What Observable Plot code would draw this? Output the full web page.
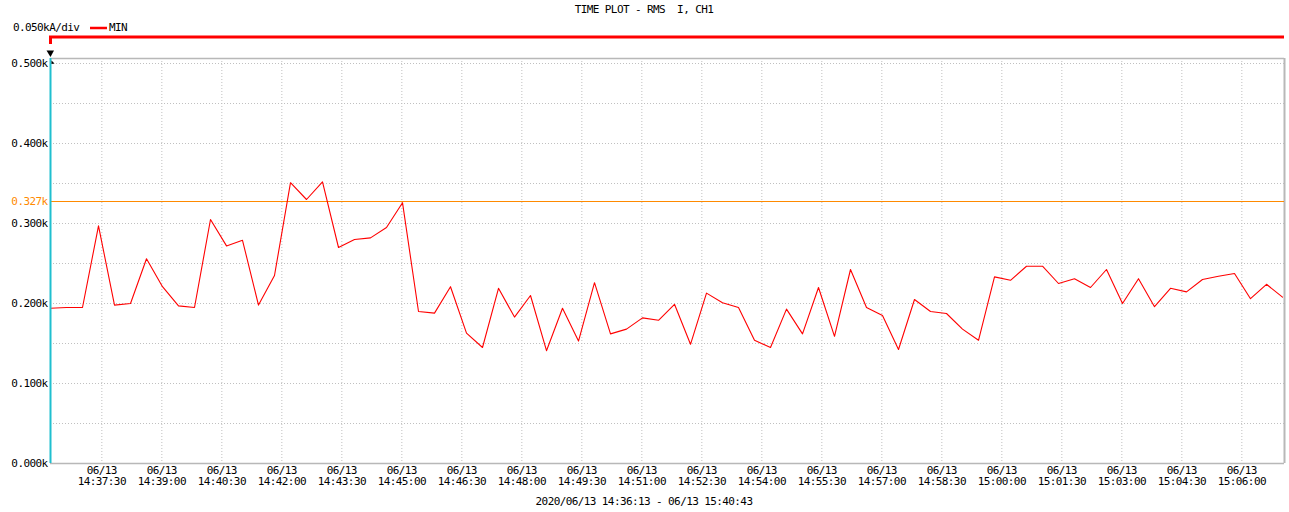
<!DOCTYPE html>
<html><head><meta charset="utf-8">
<script src="https://cdn.jsdelivr.net/npm/d3@7"></script>
<script src="https://cdn.jsdelivr.net/npm/@observablehq/plot@0.6"></script>
<style>
html,body{margin:0;padding:0;background:#fff;}
#chart svg{display:block;}
</style></head><body><div id="chart"></div>
<script>
// ---- text ----
const chartTitle = "TIME PLOT - RMS  I, CH1";
const scaleLabel = "0.050kA/div";
const seriesName = "MIN";
const rangeCaption = "2020/06/13 14:36:13 - 06/13 15:40:43";
const tickDate = "06/13";

// ---- time axis ----
const startTime = "2020-06-13T14:36:13Z";
const viewEnd = "2020-06-13T15:07:04Z";
const sampleSeconds = 24;
const tickTimes = ["14:37:30","14:39:00","14:40:30","14:42:00","14:43:30","14:45:00","14:46:30",
  "14:48:00","14:49:30","14:51:00","14:52:30","14:54:00","14:55:30","14:57:00","14:58:30",
  "15:00:00","15:01:30","15:03:00","15:04:30","15:06:00"];

// ---- values (kA) ----
const minValues = [0.194,0.195,0.195,0.297,0.198,0.200,0.256,0.221,0.197,0.195,
  0.305,0.272,0.279,0.198,0.235,0.351,0.330,0.352,0.270,0.280,
  0.282,0.295,0.326,0.190,0.188,0.221,0.163,0.145,0.219,0.183,
  0.210,0.141,0.194,0.153,0.226,0.162,0.168,0.182,0.179,0.199,
  0.149,0.213,0.201,0.195,0.154,0.145,0.193,0.162,0.220,0.159,
  0.2425,0.195,0.185,0.1425,0.205,0.190,0.1875,0.168,0.154,0.2333,
  0.229,0.2466,0.2466,0.225,0.231,0.220,0.2425,0.200,0.231,0.196,
  0.219,0.2145,0.230,0.234,0.2375,0.206,0.224,0.208];

// ---- y axis ----
const yTicks = [0, 0.1, 0.2, 0.3, 0.4, 0.5];
const yGrid = [0.05, 0.1, 0.15, 0.2, 0.25, 0.3, 0.35, 0.4, 0.45, 0.5];
const yTop = 0.50625;
const cursorValue = 0.327;

// ---- build ----
const t0 = new Date(startTime);
const tEnd = new Date(viewEnd);
const rows = minValues.map((v, i) => ({t: new Date(+t0 + i * sampleSeconds * 1000), v}));
const tickDates = tickTimes.map(s => new Date(`2020-06-13T${s}Z`));

const gridColor = "#c0c0c0";
const borderColor = "#b8b8b8";
const orange = "#ff8a00";
const font = "'DejaVu Sans Mono', 'Liberation Mono', monospace";

const chart = Plot.plot({
  width: 1289, height: 512,
  marginLeft: 50, marginRight: 5, marginTop: 58, marginBottom: 49,
  style: `font-family: ${font}; font-size: 11px; letter-spacing: -0.6px; background: #fff; color: #000;`,
  x: {type: "utc", domain: [t0, tEnd], label: null},
  y: {domain: [0, yTop], label: null},
  marks: [
    Plot.ruleY(yGrid, {stroke: gridColor, strokeDasharray: "1,2", strokeOpacity: 1}),
    Plot.ruleX(tickDates, {stroke: gridColor, strokeDasharray: "1,2", strokeOpacity: 1}),
    Plot.ruleY([0, yTop], {stroke: borderColor, strokeWidth: 1.5}),
    Plot.ruleX([tEnd], {stroke: borderColor, strokeWidth: 2}),
    Plot.ruleY([cursorValue], {stroke: orange, strokeWidth: 1, shapeRendering: "crispEdges"}),
    Plot.text([cursorValue], {y: d => d, frameAnchor: "left", dx: -3, textAnchor: "end",
      text: d => d.toFixed(3) + "k", fill: orange}),
    Plot.line(rows, {x: "t", y: "v", stroke: "#ff0000", strokeWidth: 1.1}),
    Plot.ruleX([t0], {stroke: "#1fbfcf", strokeWidth: 2}),
    Plot.axisY(yTicks, {tickSize: 0, tickPadding: 3, label: null,
      tickFormat: d => d.toFixed(3) + "k", fill: "#000"}),
    Plot.axisX(tickDates, {tickSize: 0, tickPadding: 3, fill: "#000", label: null,
      tickFormat: d => tickDate + "\n" + d3.utcFormat("%H:%M:%S")(d)})
  ]
});
document.getElementById("chart").appendChild(chart);

// ---- header / caption decorations ----
const svg = d3.select(chart);
const xs = chart.scale("x");
const xL = xs.apply(t0), xR = xs.apply(tEnd);
const g = svg.append("g").attr("font-family", font).attr("font-size", 11)
  .attr("fill", "#000").attr("text-anchor", "start");
g.append("text").attr("x", 644).attr("y", 10).attr("text-anchor", "middle")
  .attr("dominant-baseline", "middle").text(chartTitle);
g.append("text").attr("x", 13).attr("y", 28).attr("text-anchor", "start")
  .attr("dominant-baseline", "middle").text(scaleLabel);
g.append("line").attr("x1", 90).attr("x2", 107).attr("y1", 28).attr("y2", 28)
  .attr("stroke", "#ff0000").attr("stroke-width", 2.5);
g.append("text").attr("x", 109).attr("y", 28).attr("text-anchor", "start")
  .attr("dominant-baseline", "middle").text(seriesName);
g.append("path").attr("d", `M${xL + 0.5},44V37H${xR}`).attr("fill", "none")
  .attr("stroke", "#ff0000").attr("stroke-width", 3);
g.append("path").attr("d", `M${xL - 3.5},50.5L${xL + 4},50.5L${xL + 0.5},57Z`).attr("fill", "#000");
g.append("path").attr("d", `M${xL + 1.5},60.5L${xL + 4.5},63.5L${xL + 1.5},64Z`).attr("fill", "#000");
g.append("text").attr("x", 644).attr("y", 502).attr("text-anchor", "middle")
  .attr("dominant-baseline", "middle").text(rangeCaption);
</script>
</body></html>
